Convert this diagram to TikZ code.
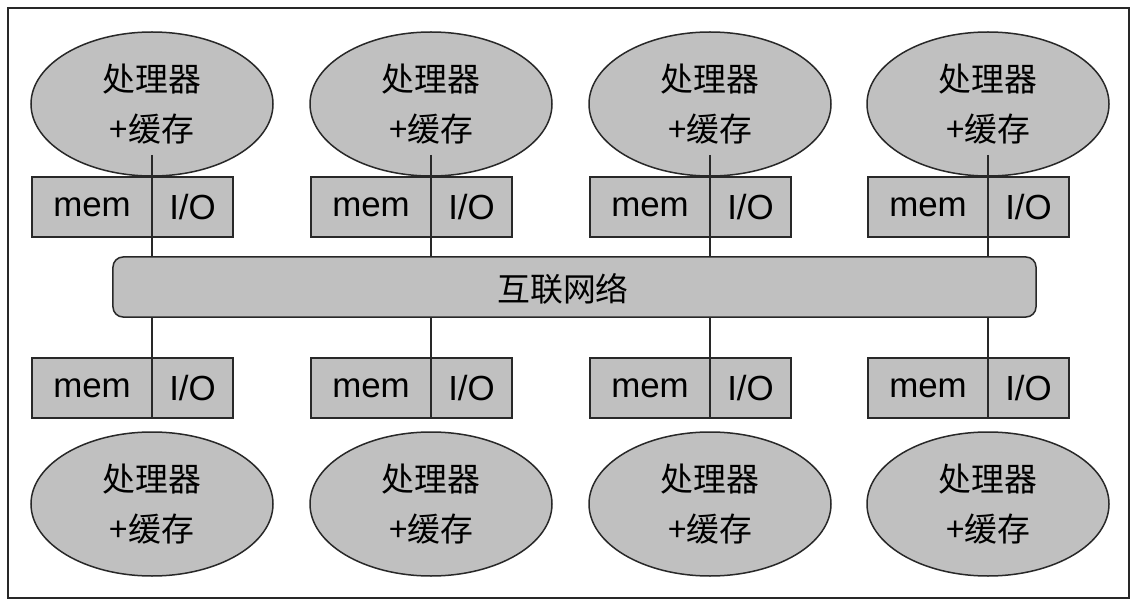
\documentclass[tikz,border=0pt]{standalone}
\usepackage{fontspec}
\setmainfont{Liberation Sans}
\newfontfamily\cjk{Noto Sans CJK SC}
\usetikzlibrary{shapes.geometric}
\definecolor{boxgray}{RGB}{192,192,192}
\definecolor{linegray}{RGB}{40,40,40}
\begin{document}
\begin{tikzpicture}[x=1bp,y=-1bp,
  proc/.style={ellipse,draw=linegray,line width=1.5bp,fill=boxgray,minimum width=242bp,minimum height=144bp,inner sep=0pt,align=center,font=\cjk\fontsize{33}{51}\selectfont},
  memcell/.style={rectangle,draw=linegray,line width=1.5bp,fill=boxgray,minimum width=120bp,minimum height=60bp,inner sep=0pt,font=\fontsize{35}{40}\selectfont},
  iocell/.style={rectangle,draw=linegray,line width=1.5bp,fill=boxgray,minimum width=81bp,minimum height=60bp,inner sep=0pt,font=\fontsize{35}{40}\selectfont},
  busbox/.style={rectangle,rounded corners=10bp,draw=linegray,line width=1.5bp,fill=boxgray,minimum width=923bp,minimum height=60bp,inner sep=0pt},
  link/.style={draw=linegray,line width=1.5bp}]
\useasboundingbox (0,0) rectangle (1137,605);
\draw[draw=linegray,line width=2bp] (8,8) rectangle (1129,598);
\node[busbox] (bus) at (574.5,287) {};
\node[font=\cjk\fontsize{33}{40}\selectfont] (bustext) at (563,289) {互联网络};
\foreach \c [count=\i] in {152,431,710,988} {
  \node[proc] (pt\i) at (\c,104) {处理器\\+缓存};
  \node[memcell] (mt\i) at (\c-60,207) {mem};
  \node[iocell] (it\i) at (\c+40.5,207) {I/O};
  \coordinate (tin\i) at (\c,155);
  \draw[link] (tin\i) -- (tin\i |- bus.north);
  \node[memcell] (mb\i) at (\c-60,388) {mem};
  \node[iocell] (ib\i) at (\c+40.5,388) {I/O};
  \node[proc] (pb\i) at (\c,504) {处理器\\+缓存};
  \coordinate (bin\i) at (\c,418);
  \draw[link] (bin\i |- bus.south) -- (bin\i);
}
\end{tikzpicture}
\end{document}
